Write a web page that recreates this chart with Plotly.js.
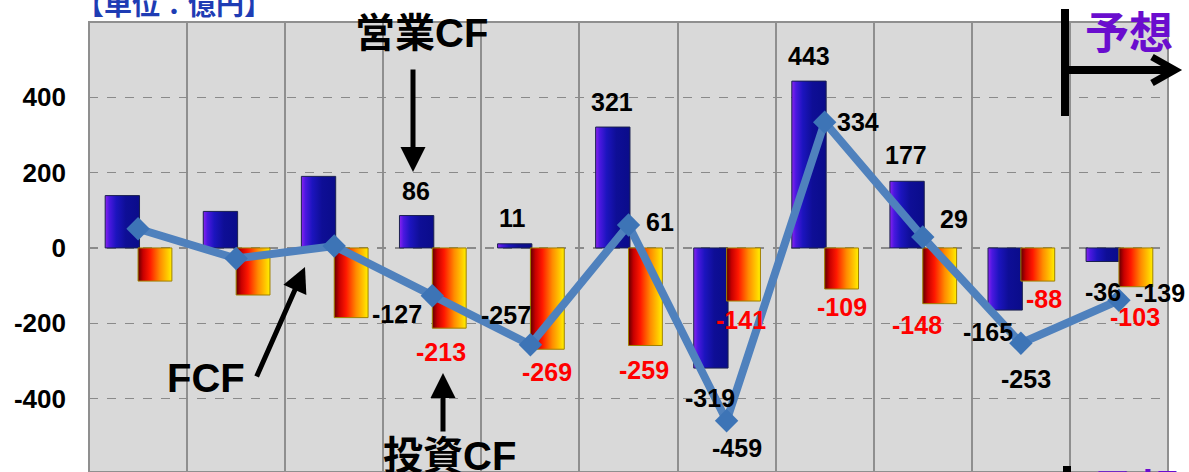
<!DOCTYPE html>
<html><head><meta charset="utf-8">
<script src="https://cdn.plot.ly/plotly-3.0.1.min.js"></script>
<style>html,body{margin:0;padding:0;background:#fff}#chart{width:1189px;height:472px}</style>
</head><body><div id="chart"></div>
<script>
// ---------- data ----------
const periods = ['P1','P2','P3','P4','P5','P6','P7','P8','P9','P10','P11'];
const operatingCF = [139, 97, 190, 86, 11, 321, -319, 443, 177, -165, -36];
const investingCF = [-88, -125, -185, -213, -269, -259, -141, -109, -148, -88, -103];
const freeCF = [51, -28, 5, -127, -257, 61, -459, 334, 29, -253, -139];
const labelShown = [false, false, false, true, true, true, true, true, true, true, true];
const yTickValues = [-400, -200, 0, 200, 400];
const yTickLabels = ['-400', '-200', '0', '200', '400'];
const seriesNames = ['営業CF', '投資CF', 'FCF'];
const unitLabel = '【単位：億円】';
const forecastLabel = '予想';

// ---------- label placement (pixel offsets: [dx, dy-down]) ----------
const opOffsets  = [null,null,null,[-1,-25],[-2,-26],[-1,-25],[-1,30],[0,-25],[-1,-26],[-17,22],[0,30]];
const invOffsets = [null,null,null,[-8,24],[0,23],[-1,25],[-3,19],[0,18],[-23,21],[6,18],[-1,30]];
const fcfOffsets = [null,null,null,[-35,18],[-24,-30],[31,-3],[10,27],[33,0],[31,-18],[5,36],[41,-7]];

const W = 1189, H = 472, M = {l: 89, r: 21, t: 22, b: 0};
const PW = W - M.l - M.r, PH = H - M.t - M.b;
const px = x => (x - M.l) / PW;
const py = y => (H - M.b - y) / PH;

const BLUE_OFF = -0.335, BLUE_W = 0.35, RED_OFF = 0.0, RED_W = 0.345;
const idx = periods.map((_, i) => i);

const numFont = {family: 'Liberation Sans, Arial, sans-serif', size: 25, color: '#000', weight: 'bold'};
const redFont = Object.assign({}, numFont, {color: '#FF0000'});

const annotations = [];
function addLabels(values, offsets, centerShift, font) {
  values.forEach((v, i) => {
    if (!labelShown[i] || !offsets[i]) return;
    annotations.push({
      x: i + centerShift, y: v, xref: 'x', yref: 'y',
      text: String(v), showarrow: false, font: font,
      xanchor: 'center', yanchor: 'middle',
      xshift: offsets[i][0], yshift: -offsets[i][1]
    });
  });
}
addLabels(operatingCF, opOffsets, BLUE_OFF + BLUE_W / 2, numFont);
addLabels(investingCF, invOffsets, RED_OFF + RED_W / 2, redFont);
addLabels(freeCF, fcfOffsets, 0, numFont);

const bigFont = {family: 'Liberation Sans, Noto Sans CJK JP, sans-serif', size: 40, color: '#000', weight: 'bold'};
const forecastFont = {family: 'Noto Sans CJK JP, sans-serif', size: 44, color: '#6A0DCE', weight: 'bold'};
function paperText(x, y, text, font, xanchor) {
  return {x: px(x), y: py(y), xref: 'paper', yref: 'paper', text: text, showarrow: false, font: font,
          xanchor: xanchor || 'center', yanchor: 'middle'};
}
annotations.push(
  paperText(421, 33, seriesNames[0], bigFont),
  paperText(449, 456, seriesNames[1], bigFont),
  paperText(206, 378, seriesNames[2], bigFont),
  paperText(74, 3, unitLabel, {family: 'Noto Sans CJK JP, sans-serif', size: 28, color: '#1E3CB4', weight: 'bold'}, 'left'),
  paperText(1129, 30, forecastLabel, forecastFont),
  paperText(1136, 488, forecastLabel, forecastFont),
  // arrows
  {x: px(413), y: py(172), xref: 'paper', yref: 'paper', text: '', showarrow: true, ax: 0, ay: -104,
   arrowhead: 2, arrowwidth: 5, arrowsize: 1, arrowcolor: '#000'},
  {x: px(443), y: py(373), xref: 'paper', yref: 'paper', text: '', showarrow: true, ax: 0, ay: 60,
   arrowhead: 2, arrowwidth: 5, arrowsize: 1, arrowcolor: '#000'},
  {x: px(305), y: py(267), xref: 'paper', yref: 'paper', text: '', showarrow: true, ax: -49, ay: 111,
   arrowhead: 2, arrowwidth: 5, arrowsize: 1, arrowcolor: '#000'}
);

const shapes = [
  {type: 'rect', xref: 'paper', yref: 'paper', x0: 0, x1: 1, y0: 0, y1: 1, line: {color: '#8f8f8f', width: 2}},
  {type: 'line', xref: 'paper', yref: 'paper', x0: px(1065), x1: px(1065), y0: py(9), y1: py(116), line: {color: '#000', width: 8}},
  {type: 'line', xref: 'paper', yref: 'paper', x0: px(1065), x1: px(1172), y0: py(70), y1: py(70), line: {color: '#000', width: 8}},
  {type: 'path', xref: 'paper', yref: 'paper',
   path: `M ${px(1152)} ${py(57)} L ${px(1175)} ${py(70)} L ${px(1152)} ${py(83)}`, line: {color: '#000', width: 7}},
  {type: 'line', xref: 'paper', yref: 'paper', x0: px(1067), x1: px(1067), y0: py(466), y1: py(500), line: {color: '#000', width: 8}}
];

const traces = [
  {type: 'bar', x: idx, y: operatingCF, name: seriesNames[0], offset: BLUE_OFF, width: BLUE_W,
   marker: {color: '#0C0E92', line: {color: '#1A2050', width: 1}}, hoverinfo: 'skip'},
  {type: 'bar', x: idx, y: investingCF, name: seriesNames[1], offset: RED_OFF, width: RED_W,
   marker: {color: '#FF6000', line: {color: '#A08000', width: 1}}, hoverinfo: 'skip'},
  {type: 'scatter', mode: 'lines+markers', x: idx, y: freeCF, name: seriesNames[2],
   line: {color: '#4F81BD', width: 8}, marker: {symbol: 'diamond', size: 18, color: '#3D74B6'}, hoverinfo: 'skip'}
];

const layout = {
  width: W, height: H, margin: M,
  paper_bgcolor: '#ffffff', plot_bgcolor: '#D9D9D9',
  showlegend: false, barmode: 'overlay',
  xaxis: {type: 'linear', range: [-0.5, periods.length - 0.5], tickvals: idx.map(i => i + 0.5).concat([-0.5]),
    showticklabels: false, ticks: '', showgrid: true, gridcolor: '#8f8f8f', gridwidth: 2, zeroline: false, showline: false},
  yaxis: {range: [-595, 600], tickvals: yTickValues, ticktext: yTickLabels, showgrid: true,
    gridcolor: '#8a8a8a', gridwidth: 1.5, griddash: 'dash', zeroline: false, ticks: '', ticklabelstandoff: 22,
    tickfont: {family: 'Liberation Sans, Arial, sans-serif', size: 26, color: '#000', weight: 'bold'}},
  annotations: annotations, shapes: shapes
};

Plotly.newPlot('chart', traces, layout, {displayModeBar: false, staticPlot: true}).then(gd => {
  const svg = gd.querySelector('.main-svg');
  let defs = svg.querySelector('defs');
  const NS = 'http://www.w3.org/2000/svg';
  function grad(id, stops) {
    const g = document.createElementNS(NS, 'linearGradient');
    g.setAttribute('id', id); g.setAttribute('x1', '0'); g.setAttribute('y1', '0');
    g.setAttribute('x2', '1'); g.setAttribute('y2', '0');
    stops.forEach(([o, c]) => {
      const s = document.createElementNS(NS, 'stop');
      s.setAttribute('offset', o); s.setAttribute('stop-color', c); g.appendChild(s);
    });
    defs.appendChild(g);
  }
  grad('gBlue', [['0', '#8A22F0'], ['0.12', '#4A18E0'], ['0.32', '#1C14BE'], ['0.6', '#0E0E96'], ['1', '#0A0C8A']]);
  grad('gRed', [['0', '#600000'], ['0.15', '#C80000'], ['0.35', '#FF1800'], ['0.65', '#FF8C00'], ['0.88', '#FFCC00'], ['1', '#FFF000']]);
  const barTraces = gd.querySelectorAll('.barlayer .trace');
  const ids = ['gBlue', 'gRed'];
  barTraces.forEach((t, k) => {
    t.querySelectorAll('path').forEach(p => { p.style.fill = `url(#${ids[k]})`; });
  });
});
</script>
</body></html>
